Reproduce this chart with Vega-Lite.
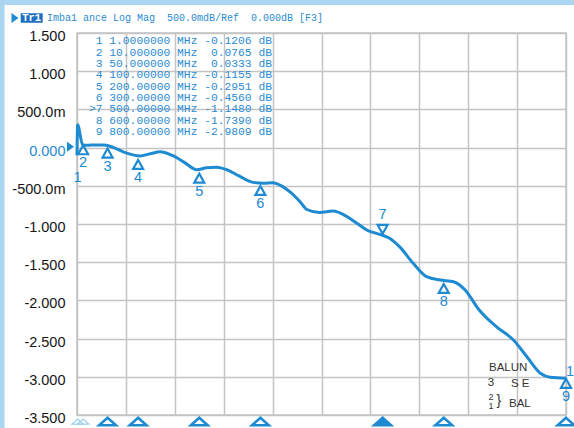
{
  "$schema": "https://vega.github.io/schema/vega-lite/v6.json",
  "width": 489,
  "height": 382,
  "autosize": {"type": "none"},
  "padding": {"left": 77, "top": 33, "right": 8, "bottom": 13},
  "background": "white",
  "config": {
    "view": {"stroke": "#c4c4c4", "strokeWidth": 1.5},
    "text": {"font": "Liberation Sans"},
    "axisY": {
      "values": [-3.5, -3, -2.5, -2, -1.5, -1, -0.5, 0, 0.5, 1, 1.5],
      "grid": true, "gridColor": "#c4c4c4", "gridWidth": 1.5,
      "ticks": false, "domain": false, "title": null,
      "labelOverlap": false, "labelFlush": false, "labelBound": false,
      "labelFont": "Liberation Sans", "labelFontSize": 14.5,
      "labelPadding": 12, "labelOffset": 3.5, "labelBaseline": "middle"
    }
  },
  "datasets": {
    "trace": [
      {"freq": 0, "dB": -0.10}, {"freq": 1, "dB": 0.30}, {"freq": 9, "dB": 0.04}, {"freq": 16, "dB": 0.03},
      {"freq": 30, "dB": 0.035}, {"freq": 45, "dB": 0.035}, {"freq": 60, "dB": 0.0}, {"freq": 80, "dB": -0.07},
      {"freq": 103, "dB": -0.11}, {"freq": 120, "dB": -0.08}, {"freq": 136, "dB": -0.055}, {"freq": 155, "dB": -0.10},
      {"freq": 175, "dB": -0.19}, {"freq": 196, "dB": -0.29}, {"freq": 212, "dB": -0.265}, {"freq": 228, "dB": -0.258},
      {"freq": 245, "dB": -0.29}, {"freq": 265, "dB": -0.37}, {"freq": 288, "dB": -0.455}, {"freq": 305, "dB": -0.465},
      {"freq": 320, "dB": -0.46}, {"freq": 332, "dB": -0.49}, {"freq": 350, "dB": -0.59}, {"freq": 365, "dB": -0.71},
      {"freq": 376, "dB": -0.81}, {"freq": 397, "dB": -0.85}, {"freq": 419, "dB": -0.83}, {"freq": 441, "dB": -0.90},
      {"freq": 458, "dB": -0.99}, {"freq": 474, "dB": -1.078}, {"freq": 498, "dB": -1.143}, {"freq": 512, "dB": -1.19},
      {"freq": 528, "dB": -1.30}, {"freq": 550, "dB": -1.515}, {"freq": 572, "dB": -1.69}, {"freq": 594, "dB": -1.733},
      {"freq": 616, "dB": -1.755}, {"freq": 635, "dB": -1.864}, {"freq": 658, "dB": -2.126}, {"freq": 686, "dB": -2.344},
      {"freq": 714, "dB": -2.518}, {"freq": 736, "dB": -2.737}, {"freq": 758, "dB": -2.954}, {"freq": 774, "dB": -3.007},
      {"freq": 800, "dB": -3.02}
    ],
    "markers": [
      {"marker": 1, "freq": 1, "value": -0.1206},
      {"marker": 2, "freq": 10, "value": 0.0765},
      {"marker": 3, "freq": 50, "value": 0.0333},
      {"marker": 4, "freq": 100, "value": -0.1155},
      {"marker": 5, "freq": 200, "value": -0.2951},
      {"marker": 6, "freq": 300, "value": -0.4560},
      {"marker": 7, "freq": 500, "value": -1.1480},
      {"marker": 8, "freq": 600, "value": -1.7390},
      {"marker": 9, "freq": 800, "value": -2.9809}
    ],
    "one": [{}]
  },
  "layer": [
    {
      "layer": [
        {
          "data": {"name": "trace"},
          "mark": {"type": "line", "color": "#1e8ad2", "strokeWidth": 3, "interpolate": "monotone"},
          "encoding": {
            "x": {
              "field": "freq", "type": "quantitative",
              "scale": {"domain": [0, 800], "nice": false, "zero": false},
              "axis": {
                "values": [0, 80, 160, 240, 320, 400, 480, 560, 640, 720, 800],
                "grid": true, "gridColor": "#c4c4c4", "gridWidth": 1.5,
                "labels": false, "ticks": false, "domain": false, "title": null
              }
            },
            "y": {
              "field": "dB", "type": "quantitative",
              "scale": {"domain": [-3.5, 1.5], "nice": false, "zero": false},
              "axis": {
                "labelOverlap": false,
                "labelExpr": "datum.value == 0 ? '0.000' : (datum.value < 0 ? '-' : '') + (abs(datum.value) < 1 ? format(abs(datum.value) * 1000, '.1f') + 'm' : format(abs(datum.value), '.3f'))",
                "labelColor": {"condition": {"test": "datum.value == 0", "value": "#1e8ad2"}, "value": "#151515"}
              }
            }
          }
        },
        {
          "data": {"name": "markers"},
          "transform": [{"filter": "datum.marker != 1 && datum.marker != 7"}],
          "mark": {"type": "point", "shape": "M0,-1L1,0.8L-1,0.8Z", "size": 100, "filled": false, "stroke": "#1e8ad2", "strokeWidth": 2.2, "opacity": 1, "yOffset": 8.5},
          "encoding": {
            "x": {"field": "freq", "type": "quantitative"},
            "y": {
              "field": "value", "type": "quantitative",
              "axis": {
                "labelOverlap": false,
                "labelExpr": "datum.value == 0 ? '0.000' : (datum.value < 0 ? '-' : '') + (abs(datum.value) < 1 ? format(abs(datum.value) * 1000, '.1f') + 'm' : format(abs(datum.value), '.3f'))",
                "labelColor": {"condition": {"test": "datum.value == 0", "value": "#1e8ad2"}, "value": "#151515"}
              }
            }
          }
        },
        {
          "data": {"name": "markers"},
          "transform": [{"filter": "datum.marker == 7"}],
          "mark": {"type": "point", "shape": "M0,1L1,-0.8L-1,-0.8Z", "size": 100, "filled": false, "stroke": "#1e8ad2", "strokeWidth": 2.2, "opacity": 1, "yOffset": -6.5},
          "encoding": {
            "x": {"field": "freq", "type": "quantitative"},
            "y": {
              "field": "value", "type": "quantitative",
              "axis": {
                "labelOverlap": false,
                "labelExpr": "datum.value == 0 ? '0.000' : (datum.value < 0 ? '-' : '') + (abs(datum.value) < 1 ? format(abs(datum.value) * 1000, '.1f') + 'm' : format(abs(datum.value), '.3f'))",
                "labelColor": {"condition": {"test": "datum.value == 0", "value": "#1e8ad2"}, "value": "#151515"}
              }
            }
          }
        },
        {
          "data": {"name": "markers"},
          "transform": [{"filter": "datum.marker != 7"}],
          "mark": {"type": "text", "fontSize": 14.5, "color": "#1e8ad2", "dy": 21.5, "align": "center", "baseline": "middle"},
          "encoding": {
            "x": {"field": "freq", "type": "quantitative"},
            "y": {
              "field": "value", "type": "quantitative",
              "axis": {
                "labelOverlap": false,
                "labelExpr": "datum.value == 0 ? '0.000' : (datum.value < 0 ? '-' : '') + (abs(datum.value) < 1 ? format(abs(datum.value) * 1000, '.1f') + 'm' : format(abs(datum.value), '.3f'))",
                "labelColor": {"condition": {"test": "datum.value == 0", "value": "#1e8ad2"}, "value": "#151515"}
              }
            },
            "text": {"field": "marker"}
          }
        },
        {
          "data": {"name": "markers"},
          "transform": [{"filter": "datum.marker == 7"}],
          "mark": {"type": "text", "fontSize": 14.5, "color": "#1e8ad2", "dy": -20, "align": "center", "baseline": "middle"},
          "encoding": {
            "x": {"field": "freq", "type": "quantitative"},
            "y": {
              "field": "value", "type": "quantitative",
              "axis": {
                "labelOverlap": false,
                "labelExpr": "datum.value == 0 ? '0.000' : (datum.value < 0 ? '-' : '') + (abs(datum.value) < 1 ? format(abs(datum.value) * 1000, '.1f') + 'm' : format(abs(datum.value), '.3f'))",
                "labelColor": {"condition": {"test": "datum.value == 0", "value": "#1e8ad2"}, "value": "#151515"}
              }
            },
            "text": {"field": "marker"}
          }
        }
      ]
    },
    {
      "layer": [
        {
          "data": {"name": "one"},
          "mark": {"type": "rect", "color": "#aad6f4", "clip": false},
          "encoding": {
            "x": {"datum": -130, "type": "quantitative"}, "x2": {"datum": 830},
            "y": {"datum": 2.0, "type": "quantitative", "scale": {"domain": [-3.5, 1.5], "nice": false, "zero": false}, "axis": null}, "y2": {"datum": 1.866}
          }
        },
        {
          "data": {"name": "one"},
          "mark": {"type": "rect", "color": "#aad6f4", "clip": false},
          "encoding": {
            "x": {"datum": -130, "type": "quantitative"}, "x2": {"datum": -118.6},
            "y": {"datum": 2.0, "type": "quantitative", "axis": null}, "y2": {"datum": -3.9}
          }
        },
        {
          "data": {"name": "one"},
          "mark": {"type": "text", "text": "1", "fontSize": 14.5, "color": "#1e8ad2", "dx": 4, "dy": -3.5, "align": "center", "baseline": "middle"},
          "encoding": {
            "x": {"datum": 800, "type": "quantitative"},
            "y": {"datum": -2.9809, "type": "quantitative", "axis": null}
          }
        },
        {
          "data": {"name": "markers"},
          "mark": {"type": "point", "shape": "M0,-0.45L1,0.45L-1,0.45Z", "filled": true, "opacity": 1, "yOffset": 6.5, "clip": false},
          "encoding": {
            "x": {"field": "freq", "type": "quantitative"},
            "y": {"datum": -3.5, "type": "quantitative", "axis": null},
            "size": {"condition": {"test": "datum.marker <= 2", "value": 130}, "value": 280},
            "stroke": {"condition": {"test": "datum.marker <= 2", "value": "#9ccff0"}, "value": "#1e8ad2"},
            "strokeWidth": {"condition": {"test": "datum.marker <= 2", "value": 1.2}, "value": 2.6},
            "fill": {"condition": [{"test": "datum.marker == 7", "value": "#1e8ad2"}, {"test": "datum.marker <= 2", "value": "transparent"}], "value": "white"}
          }
        },
        {
          "data": {"name": "one"},
          "mark": {"type": "point", "shape": "M-0.7,-1L0.7,0L-0.7,1Z", "size": 100, "filled": true, "color": "#1e8ad2", "opacity": 1},
          "encoding": {
            "x": {"datum": -10.6, "type": "quantitative"},
            "y": {"datum": 0.012, "type": "quantitative", "axis": null}
          }
        },
        {
          "data": {"name": "one"},
          "mark": {"type": "point", "shape": "M-0.7,-1L0.7,0L-0.7,1Z", "size": 100, "filled": true, "color": "#1e8ad2", "opacity": 1},
          "encoding": {
            "x": {"datum": -101.4, "type": "quantitative"},
            "y": {"datum": 1.696, "type": "quantitative", "axis": null}
          }
        },
        {
          "data": {"name": "one"},
          "mark": {"type": "rect", "color": "#1f6fc0"},
          "encoding": {
            "x": {"datum": -92.1, "type": "quantitative"}, "x2": {"datum": -56.1},
            "y": {"datum": 1.758, "type": "quantitative", "axis": null}, "y2": {"datum": 1.635}
          }
        },
        {
          "data": {"name": "one"},
          "mark": {"type": "text", "text": "Tr1", "font": "Liberation Mono", "fontSize": 10.5, "fontWeight": "bold", "color": "white", "align": "center", "baseline": "middle"},
          "encoding": {
            "x": {"datum": -74.1, "type": "quantitative"},
            "y": {"datum": 1.696, "type": "quantitative", "axis": null}
          }
        },
        {
          "data": {"name": "one"},
          "mark": {"type": "text", "text": "Imba1 ance Log Mag\u00a0\u00a0500.0mdB/Ref\u00a0\u00a00.000dB [F3]", "font": "Liberation Mono", "fontSize": 10, "color": "#2b8bd3", "align": "left", "baseline": "middle"},
          "encoding": {
            "x": {"datum": -49.1, "type": "quantitative"},
            "y": {"datum": 1.696, "type": "quantitative", "axis": null}
          }
        },
        {
          "data": {"name": "one"},
          "mark": {"type": "text", "text": "BALUN", "fontSize": 11.5, "color": "#333333", "align": "left", "baseline": "middle"},
          "encoding": {"x": {"datum": 674, "type": "quantitative"}, "y": {"datum": -2.885, "type": "quantitative", "axis": null}}
        },
        {
          "data": {"name": "one"},
          "mark": {"type": "text", "text": "3", "fontSize": 11.5, "color": "#333333", "align": "center", "baseline": "middle"},
          "encoding": {"x": {"datum": 677.3, "type": "quantitative"}, "y": {"datum": -3.075, "type": "quantitative", "axis": null}}
        },
        {
          "data": {"name": "one"},
          "mark": {"type": "text", "text": "S E", "fontSize": 11.5, "color": "#333333", "align": "left", "baseline": "middle"},
          "encoding": {"x": {"datum": 710, "type": "quantitative"}, "y": {"datum": -3.09, "type": "quantitative", "axis": null}}
        },
        {
          "data": {"name": "one"},
          "mark": {"type": "text", "text": "2", "fontSize": 9, "color": "#333333", "align": "center", "baseline": "middle"},
          "encoding": {"x": {"datum": 677.3, "type": "quantitative"}, "y": {"datum": -3.258, "type": "quantitative", "axis": null}}
        },
        {
          "data": {"name": "one"},
          "mark": {"type": "text", "text": "1", "fontSize": 9, "color": "#333333", "align": "center", "baseline": "middle"},
          "encoding": {"x": {"datum": 677.3, "type": "quantitative"}, "y": {"datum": -3.382, "type": "quantitative", "axis": null}}
        },
        {
          "data": {"name": "one"},
          "mark": {"type": "text", "text": "}", "fontSize": 14, "color": "#333333", "align": "center", "baseline": "middle"},
          "encoding": {"x": {"datum": 690.3, "type": "quantitative"}, "y": {"datum": -3.317, "type": "quantitative", "axis": null}}
        },
        {
          "data": {"name": "one"},
          "mark": {"type": "text", "text": "BAL", "fontSize": 11.5, "color": "#333333", "align": "left", "baseline": "middle"},
          "encoding": {"x": {"datum": 706.7, "type": "quantitative"}, "y": {"datum": -3.356, "type": "quantitative", "axis": null}}
        }
      ]
    },
    {
      "data": {"name": "markers"},
      "transform": [
        {"calculate": "(datum.marker == 7 ? '>' : '') + datum.marker + ' ' + format(datum.freq, '.8r') + ' MHz ' + (datum.value < 0 ? '-' : '\u00a0') + format(abs(datum.value), '.4f') + ' dB'", "as": "label"}
      ],
      "mark": {"type": "text", "font": "Liberation Mono", "fontSize": 11.3, "color": "#2b8bd3", "align": "right", "baseline": "middle"},
      "encoding": {
        "x": {"datum": 319, "type": "quantitative"},
        "y": {"field": "marker", "type": "quantitative", "scale": {"domain": [0.248, 34.05], "reverse": true, "nice": false, "zero": false}, "axis": null},
        "text": {"field": "label"}
      }
    }
  ],
  "resolve": {"scale": {"y": "independent"}}
}
